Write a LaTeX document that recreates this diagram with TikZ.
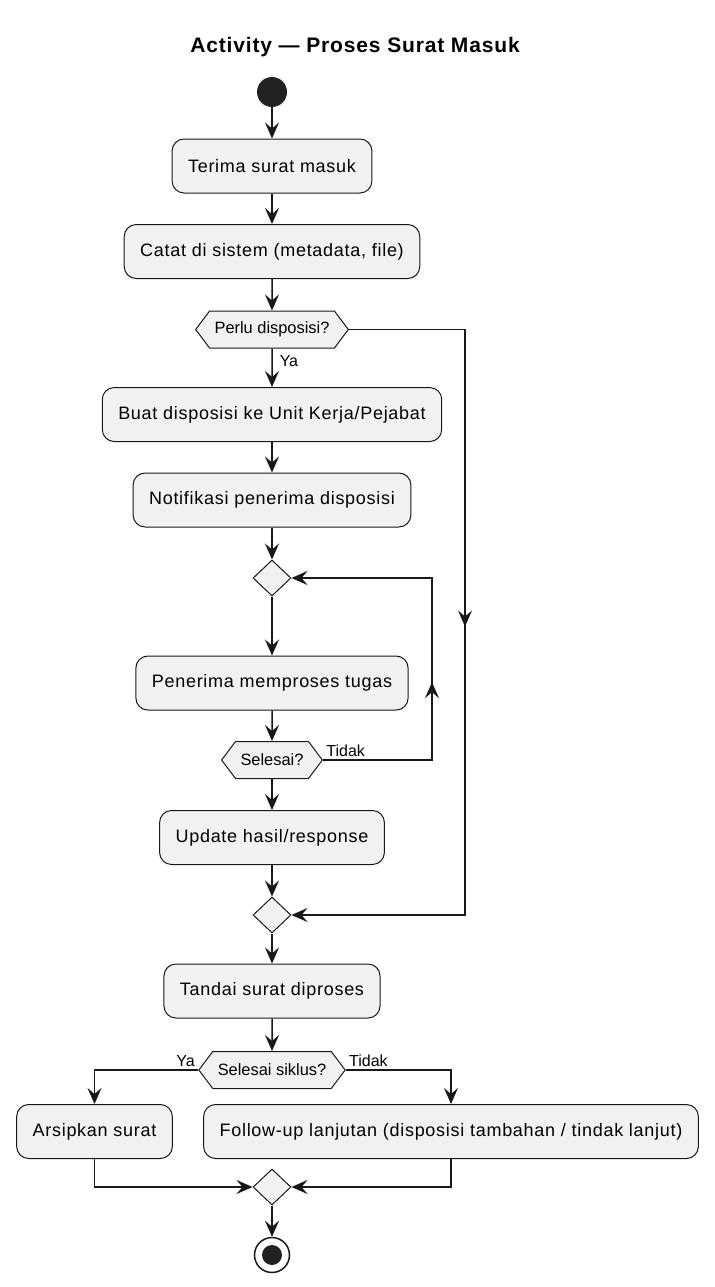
\documentclass[tikz,border=0pt]{standalone}
\usepackage{fontspec}
\setmainfont{Liberation Sans}
\newfontfamily\kotak{Liberation Sans}[LetterSpace=4]
\usetikzlibrary{arrows.meta,shapes.geometric,shapes.symbols,decorations.markings}
\definecolor{isi}{HTML}{F1F1F1}
\definecolor{garis}{HTML}{181818}
\definecolor{titik}{HTML}{222222}
\tikzset{
  alur/.style={draw=garis, line width=0.75pt, -{Stealth[length=8pt,width=7pt,inset=3pt]}},
  aksi/.style={draw=garis, fill=isi, line width=0.5pt, rounded corners=6pt, minimum height=27pt, inner xsep=8pt, font=\kotak\fontsize{9}{11}\selectfont},
  cabang/.style={signal, signal to=west and east, signal pointer angle=106, draw=garis, fill=isi, line width=0.5pt, minimum height=18.5pt, inner xsep=2.5pt, font=\fontsize{8.2}{10}\selectfont},
  gabung/.style={diamond, draw=garis, fill=isi, line width=0.5pt, minimum width=19pt, minimum height=18pt, inner sep=0pt},
  ket/.style={font=\fontsize{8}{10}\selectfont, inner sep=1.5pt},
  tengah/.style={postaction={decorate}, decoration={markings, mark=at position #1 with {\arrow{Stealth[length=8pt,width=7pt,inset=3pt]}}}}
}
\begin{document}
\begin{tikzpicture}[x=0.5pt,y=-0.5pt]
\useasboundingbox (0,0) rectangle (714,1287);

%title
\node[font=\kotak\bfseries\fontsize{10.5}{12}\selectfont](judul)at(355,47){Activity — Proses Surat Masuk};
%start
\node[circle,fill=titik,minimum size=15pt,inner sep=0pt](mulai)at(272,92){};
%actions
\node[aksi](terima)at(272,166){Terima surat masuk};
\node[aksi](catat)at(272,251.5){Catat di sistem (metadata, file)};
\node[cabang](perlu)at(272,329.5){Perlu disposisi?};
\node[aksi](buat)at(272,414.5){Buat disposisi ke Unit Kerja/Pejabat};
\node[aksi](notif)at(272,500){Notifikasi penerima disposisi};
\node[gabung](gabung1)at(272,578){};
\node[aksi](proses)at(272,683){Penerima memproses tugas};
\node[cabang](selesai)at(272,760){Selesai?};
\node[aksi](update)at(272,837.5){Update hasil/response};
\node[gabung](gabung2)at(272,915){};
\node[aksi](tandai)at(272,991){Tandai surat diproses};
\node[cabang](siklus)at(272,1070){Selesai siklus?};
\node[aksi](arsip)at(94.5,1131.5){Arsipkan surat};
\node[aksi](lanjut)at(451,1131.5){Follow-up lanjutan (disposisi tambahan / tindak lanjut)};
\node[gabung](gabung3)at(272,1187){};
%end
\node[circle,draw=garis,line width=0.75pt,fill=white,minimum size=17.5pt,inner sep=0pt](akhir)at(272,1255){};
\node[circle,fill=titik,minimum size=10pt,inner sep=0pt](akhirdalam)at(akhir){};
%corners of the side lines
\coordinate(loopbawah)at(432,760);
\coordinate(loopatas)at(432,578);
\coordinate(lewatatas)at(465,329.5);
\coordinate(lewatbawah)at(465,915);

%main flow
\draw[alur](mulai)--(terima);
\draw[alur](terima)--(catat);
\draw[alur](catat)--(perlu);
\draw[alur](perlu)--node[ket,anchor=west,pos=0.33,xshift=2pt]{Ya}(buat);
\draw[alur](buat)--(notif);
\draw[alur](notif)--(gabung1);
\draw[alur](gabung1)--(proses);
\draw[alur](proses)--(selesai);
\draw[alur](selesai)--(update);
\draw[alur](update)--(gabung2);
\draw[alur](gabung2)--(tandai);
\draw[alur](tandai)--(siklus);
%loop back
\draw[alur,tengah=0.433](selesai.east)--(loopbawah)--(loopatas)--(gabung1.east);
\node[ket,anchor=south west]at(selesai.east){Tidak};
%no disposition
\draw[alur,tengah=0.472](perlu.east)--(lewatatas)--(lewatbawah)--(gabung2.east);
%branches
\draw[alur](siklus.west)-|(arsip.north);
\node[ket,anchor=south east]at(siklus.west){Ya};
\draw[alur](siklus.east)-|(lanjut.north);
\node[ket,anchor=south west]at(siklus.east){Tidak};
\draw[alur](arsip.south)|-(gabung3.west);
\draw[alur](lanjut.south)|-(gabung3.east);
\draw[alur](gabung3)--(akhir);

\end{tikzpicture}
\end{document}
